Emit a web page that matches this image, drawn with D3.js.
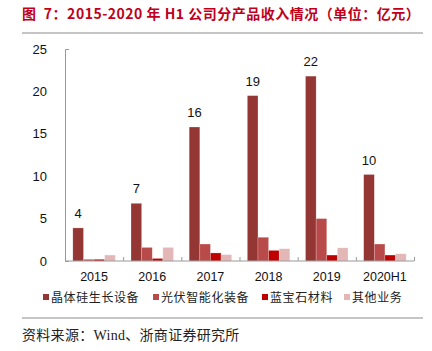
<!DOCTYPE html>
<html>
<head>
<meta charset="utf-8">
<script src="https://cdn.jsdelivr.net/npm/d3@7"></script>
<style>
  body { margin: 0; background: #fff; }
  svg { display: block; font-family: "Liberation Sans", Arial, sans-serif; }
</style>
</head>
<body>
<div id="chart"></div>
<script>
const years = ["2015", "2016", "2017", "2018", "2019", "2020H1"];
const seriesNames = ["晶体硅生长设备", "光伏智能化装备", "蓝宝石材料", "其他业务"];
const crystal = [3.9, 6.8, 15.8, 19.5, 21.8, 10.2];
const pvEquip = [0.2, 1.6, 2.0, 2.8, 5.0, 2.0];
const sapphire = [0.2, 0.3, 0.95, 1.25, 0.7, 0.7];
const others = [0.7, 1.6, 0.75, 1.45, 1.55, 0.85];
const topLabels = ["4", "7", "16", "19", "22", "10"];
const yTicks = [0, 5, 10, 15, 20, 25];
const colors = ["#943634", "#B84B49", "#C00000", "#E3B7B6"];

const allSeries = [crystal, pvEquip, sapphire, others];

const W = 432, H = 351;
const margin = { top: 49, right: 18, bottom: 90, left: 65 };
const width = W - margin.left - margin.right;
const height = H - margin.top - margin.bottom;

const svg = d3.select("#chart").append("svg")
    .attr("width", W)
    .attr("height", H);

// title and rules
svg.append("text")
    .attr("x", 22)
    .attr("y", 19)
    .attr("fill", "#C0001B")
    .attr("font-size", "14px")
    .attr("letter-spacing", "0.5px")
    .attr("font-weight", "bold")
    .attr("xml:space", "preserve")
    .style("white-space", "pre")
    .attr("font-family", "'Noto Sans CJK SC', 'Liberation Sans', sans-serif")
    .text("图  7：2015-2020 年 H1 公司分产品收入情况（单位：亿元）");

svg.append("line")
    .attr("x1", 22).attr("x2", 423)
    .attr("y1", 33).attr("y2", 33)
    .attr("stroke", "#8c8c8c").attr("stroke-width", 1.2);

svg.append("line")
    .attr("x1", 22).attr("x2", 423)
    .attr("y1", 318).attr("y2", 318)
    .attr("stroke", "#8c8c8c").attr("stroke-width", 1.2);

svg.append("text")
    .attr("x", 22)
    .attr("y", 340)
    .attr("fill", "#222")
    .attr("font-size", "14px")
    .attr("letter-spacing", "0.3px")
    .attr("font-family", "'Liberation Serif', 'Noto Sans CJK SC', serif")
    .text("资料来源：Wind、浙商证券研究所");

const g = svg.append("g")
    .attr("transform", "translate(" + margin.left + "," + margin.top + ")");

const x0 = d3.scaleBand()
    .domain(years)
    .range([0, width])
    .paddingInner(0.27)
    .paddingOuter(0.135);

const x1 = d3.scaleBand()
    .domain(d3.range(seriesNames.length))
    .range([0, x0.bandwidth()]);

const y = d3.scaleLinear()
    .domain([0, 25])
    .range([height, 0]);

// bars
allSeries.forEach(function(values, si) {
    g.append("g")
        .selectAll("rect")
        .data(values)
        .enter()
        .append("rect")
        .attr("x", (d, i) => x0(years[i]) + x1(si))
        .attr("y", d => y(d))
        .attr("width", x1.bandwidth())
        .attr("height", d => height - y(d))
        .attr("fill", colors[si])
        .attr("stroke", "#fff")
        .attr("stroke-opacity", 0.35)
        .attr("stroke-width", 0.6);
});

// labels above first series
g.append("g")
    .selectAll("text")
    .data(topLabels)
    .enter()
    .append("text")
    .attr("x", (d, i) => x0(years[i]) + x1(0) + x1.bandwidth() / 2)
    .attr("y", (d, i) => y(crystal[i]) - 10)
    .attr("text-anchor", "middle")
    .attr("font-size", "13px")
    .attr("fill", "#111")
    .text(d => d);

// y axis
const yAxis = g.append("g")
    .call(d3.axisLeft(y).tickValues(yTicks).tickSizeInner(0).tickSizeOuter(-4).tickPadding(18));
yAxis.select(".domain").attr("stroke", "#999");
yAxis.selectAll("text")
    .attr("font-size", "13px")
    .attr("fill", "#111")
    .attr("font-family", "'Liberation Sans', Arial, sans-serif");

// x axis with inward ticks at band boundaries
const xAxis = g.append("g")
    .attr("transform", "translate(0," + height + ")");
xAxis.append("line")
    .attr("x1", 0).attr("x2", width)
    .attr("stroke", "#999");
const step = x0.step();
xAxis.selectAll(".bt")
    .data(d3.range(1, years.length + 1))
    .enter()
    .append("line")
    .attr("x1", d => d * step + 0.5)
    .attr("x2", d => d * step + 0.5)
    .attr("y1", 0).attr("y2", -4)
    .attr("stroke", "#999");
xAxis.selectAll(".lab")
    .data(years)
    .enter()
    .append("text")
    .attr("x", d => x0(d) + x0.bandwidth() / 2)
    .attr("y", 20)
    .attr("text-anchor", "middle")
    .attr("font-size", "12.5px")
    .attr("fill", "#111")
    .text(d => d);

// legend
const legendX = [43, 153, 262, 344];
const legend = svg.append("g");
seriesNames.forEach(function(name, i) {
    legend.append("rect")
        .attr("x", legendX[i])
        .attr("y", 294)
        .attr("width", 6)
        .attr("height", 6)
        .attr("fill", colors[i]);
    legend.append("text")
        .attr("x", legendX[i] + 8)
        .attr("y", 301.5)
        .attr("font-size", "12px")
        .attr("letter-spacing", "0.6px")
        .attr("fill", "#222")
        .attr("font-family", "'Noto Sans CJK SC', sans-serif")
        .text(name);
});
</script>
</body>
</html>
